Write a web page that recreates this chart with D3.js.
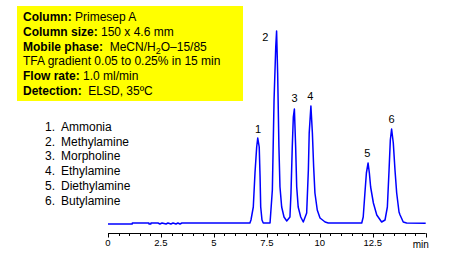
<!DOCTYPE html>
<html>
<head>
<meta charset="utf-8">
<script src="https://cdn.jsdelivr.net/npm/d3@7"></script>
<style>
  body { margin: 0; background: #fff; }
  svg { display: block; font-family: "Liberation Sans", Arial, sans-serif; }
</style>
</head>
<body>
<div id="chart"></div>
<script>
var width = 466, height = 262

// chromatogram trace: time (min), detector signal (arb.)
var traceTime = [0, 1.14, 1.15, 1.93, 1.94, 2.02, 2.03, 2.35, 2.36, 2.45, 2.55, 2.74, 2.83, 2.97, 3.07, 3.21, 3.30, 3.40, 3.49,
  6.70, 6.75, 6.86, 6.94, 7.02, 7.07, 7.14, 7.18, 7.21, 7.27, 7.33, 7.65,
  7.76, 7.84, 7.92, 7.96, 8.01, 8.07, 8.12, 8.20, 8.31, 8.44, 8.59, 8.64,
  8.70, 8.75, 8.80, 8.86, 8.91, 8.98, 9.10, 9.22, 9.38, 9.46,
  9.50, 9.58, 9.65, 9.71, 9.77, 9.88, 10.01, 10.25, 10.40, 11.98,
  12.05, 12.13, 12.20, 12.28, 12.34, 12.40, 12.53, 12.69, 12.92, 13.08, 13.19, 13.27,
  13.33, 13.39, 13.47, 13.55, 13.63, 13.74, 13.79, 13.94, 14.10, 15.0]
var traceSignal = [0, 0, 1, 1, 0, 0, 1, 1, 1, 0, 1, 0, 1, 0, 1, 0, 1, 0, 1,
  1, 4, 17, 51, 77, 86, 77, 47, 17, 4, 1, 1,
  34, 124, 177, 193, 151, 77, 37, 17, 7, 3, 7, 31,
  77, 107, 115, 77, 37, 17, 7, 2, 11, 54,
  91, 118, 91, 57, 31, 14, 6, 2, 1, 1,
  7, 31, 51, 61, 51, 37, 21, 9, 2, 4, 17, 54,
  84, 95, 81, 54, 31, 12, 9, 2, 1, 0.7]

// peak number labels (placed in data units)
var peakNames = ["1", "2", "3", "4", "5", "6"]
var peakLabelTime = [7.08, 7.43, 8.81, 9.55, 12.24, 13.39]
var peakLabelSignal = [91, 183, 122, 124, 67, 101]

var compounds = ["Ammonia", "Methylamine", "Morpholine", "Ethylamine", "Diethylamine", "Butylamine"]

var conditionLabels = ["Column:", "Column size:", "Mobile phase:", "", "Flow rate:", "Detection:"]
var conditionValues = [" Primesep A", " 150 x 4.6 mm", "  MeCN/H|2|O\u201315/85", "TFA gradient 0.05 to 0.25% in 15 min", " 1.0 ml/min", "  ELSD, 35\u00baC"]

var majorTicks = [0, 2.5, 5, 7.5, 10, 12.5, 15]
var tickLabels = ["0", "2.5", "5", "7.5", "10", "12.5", ""]

var svg = d3.select("#chart").append("svg")
    .attr("width", width)
    .attr("height", height)

var xScale = d3.scaleLinear().domain([0, 15]).range([108, 425.7])
var yScale = d3.scaleLinear().domain([0, 200]).range([224, 24])

// info box
svg.append("rect")
    .attr("x", 17).attr("y", 6)
    .attr("width", 226).attr("height", 95)
    .attr("fill", "#ffff00")

conditionLabels.forEach(function(lbl, i) {
    var t = svg.append("text")
        .attr("x", 23)
        .attr("y", 21 + i * 14.8)
        .attr("font-size", 12)
        .attr("fill", "#000")
    if (lbl) t.append("tspan").attr("font-weight", "bold").text(lbl)
    var parts = conditionValues[i].split("|")
    t.append("tspan").attr("xml:space", "preserve").style("white-space", "pre").text(parts[0])
    if (parts.length > 1) {
        t.append("tspan").attr("font-size", 9).attr("dy", 3).text(parts[1])
        t.append("tspan").attr("dy", -3).text(parts[2])
    }
})

// compound list
var legend = svg.append("g").attr("font-size", 12).attr("fill", "#000")
compounds.forEach(function(c, i) {
    legend.append("text").attr("x", 45).attr("y", 131 + i * 14.7).text((i + 1) + ".")
    legend.append("text").attr("x", 61).attr("y", 131 + i * 14.7).text(c)
})

// x axis
var axisY = 233.5
var minorTicks = d3.range(0, 15.01, 0.5)
var gx = svg.append("g")
gx.append("line")
    .attr("x1", xScale(0)).attr("x2", xScale(15))
    .attr("y1", axisY).attr("y2", axisY)
    .attr("stroke", "#000")
gx.selectAll(".minor").data(minorTicks).enter().append("line")
    .attr("x1", d => Math.round(xScale(d)) + 0.5).attr("x2", d => Math.round(xScale(d)) + 0.5)
    .attr("y1", axisY).attr("y2", axisY + 2.5)
    .attr("stroke", "#000")
gx.selectAll(".major").data(majorTicks).enter().append("line")
    .attr("x1", d => Math.round(xScale(d)) + 0.5).attr("x2", d => Math.round(xScale(d)) + 0.5)
    .attr("y1", axisY).attr("y2", axisY + 4)
    .attr("stroke", "#000")
gx.selectAll(".lbl").data(majorTicks).enter().append("text")
    .attr("x", d => xScale(d))
    .attr("y", 245.5)
    .attr("text-anchor", "middle")
    .attr("font-size", 9.5)
    .text((d, i) => tickLabels[i])
gx.append("text")
    .attr("x", xScale(15) - 5)
    .attr("y", 247.5)
    .attr("text-anchor", "middle")
    .attr("font-size", 10)
    .text("min")

// trace
var line = d3.line()
    .x(d => xScale(d[0]))
    .y(d => yScale(d[1]))
svg.append("path")
    .datum(d3.zip(traceTime, traceSignal))
    .attr("d", line)
    .attr("fill", "none")
    .attr("stroke", "#0000ff")
    .attr("stroke-width", 1.5)
    .attr("stroke-linejoin", "round")

svg.selectAll(".peak-label").data(peakNames).enter().append("text")
    .attr("x", (d, i) => xScale(peakLabelTime[i]))
    .attr("y", (d, i) => yScale(peakLabelSignal[i]))
    .attr("text-anchor", "middle")
    .attr("font-size", 11)
    .text(d => d)
</script>
</body>
</html>
